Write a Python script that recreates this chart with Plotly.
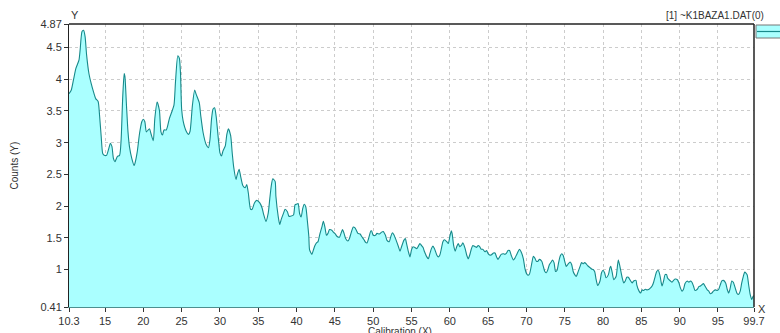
import plotly.graph_objects as go

# Spectrum: calibration (X) vs counts (Y)
x_cal = [
    10.3, 10.6, 10.9, 11.2, 11.6, 11.75, 12.0, 12.2, 12.4, 12.6, 12.9, 13.2, 13.5, 13.8,
    14.1, 14.3, 14.5, 14.7, 14.9, 15.2, 15.5, 15.7, 15.9, 16.1, 16.3, 16.6, 16.9, 17.1,
    17.3, 17.5, 17.6, 17.8, 18.0, 18.2, 18.5, 18.8, 18.9, 19.2, 19.5, 19.8, 20.0, 20.2,
    20.4, 20.8, 21.0, 21.3, 21.5, 21.8, 22.1, 22.3, 22.5, 22.7, 23.0, 23.4, 23.7, 24.0,
    24.2, 24.5, 24.7, 24.85, 25.0, 25.2, 25.6, 25.9, 26.1, 26.4, 26.7, 26.9, 27.3, 27.5,
    27.8, 28.2, 28.5, 28.7, 28.9, 29.1, 29.3, 29.5, 29.8, 30.0, 30.2, 30.4, 30.7, 30.9,
    31.1, 31.4, 31.6, 31.8, 32.1, 32.2, 32.5, 32.7, 33.0, 33.3, 33.5, 33.7, 34.0, 34.2,
    34.5, 34.8, 35.2, 35.5, 35.7, 36.0, 36.3, 36.5, 36.7, 36.9, 37.2, 37.3, 37.6, 37.8,
    38.0, 38.3, 38.5, 38.8, 39.0, 39.2, 39.6, 39.8, 40.0, 40.2, 40.4, 40.6, 40.8, 41.0,
    41.2, 41.4, 41.6, 41.7, 42.0, 42.2, 42.4, 42.6, 42.8, 43.0, 43.3, 43.5, 43.7, 43.9,
    44.1, 44.3, 44.6, 44.8, 45.0, 45.3, 45.6, 45.8, 46.0, 46.2, 46.4, 46.7, 46.9, 47.1,
    47.4, 47.6, 47.8, 48.0, 48.3, 48.5, 48.8, 49.0, 49.2, 49.4, 49.7, 49.8, 50.0, 50.3,
    50.5, 50.8, 51.1, 51.3, 51.6, 51.8, 52.1, 52.3, 52.5, 52.7, 53.0, 53.3, 53.5, 53.7,
    54.0, 54.2, 54.3, 54.6, 54.8, 55.0, 55.2, 55.4, 55.7, 55.9, 56.1, 56.3, 56.5, 56.7,
    57.0, 57.2, 57.4, 57.6, 57.8, 58.0, 58.3, 58.5, 58.7, 58.9, 59.1, 59.3, 59.6, 59.8,
    60.0, 60.2, 60.3, 60.5, 60.7, 60.9, 61.1, 61.3, 61.5, 61.7, 62.0, 62.2, 62.4, 62.6,
    62.8, 63.0, 63.3, 63.5, 63.7, 63.9, 64.1, 64.3, 64.6, 64.8, 65.0, 65.2, 65.4, 65.7,
    65.9, 66.1, 66.3, 66.5, 66.7, 67.0, 67.2, 67.4, 67.6, 67.8, 68.0, 68.3, 68.5, 68.7,
    68.9, 69.1, 69.3, 69.6, 69.8, 70.0, 70.2, 70.4, 70.7, 70.9, 71.1, 71.3, 71.5, 71.7,
    72.0, 72.2, 72.4, 72.6, 72.8, 73.0, 73.3, 73.4, 73.6, 73.8, 74.0, 74.2, 74.4, 74.6,
    74.8, 75.0, 75.2, 75.4, 75.7, 75.9, 76.1, 76.3, 76.5, 76.7, 77.0, 77.2, 77.4, 77.6,
    77.8, 78.0, 78.3, 78.5, 78.7, 78.9, 79.1, 79.3, 79.6, 79.8, 80.0, 80.2, 80.4, 80.7,
    80.9, 81.0, 81.2, 81.4, 81.7, 81.9, 82.0, 82.2, 82.5, 82.7, 82.9, 83.1, 83.3, 83.6,
    83.8, 84.0, 84.3, 84.4, 84.7, 84.9, 85.1, 85.3, 85.5, 85.7, 86.0, 86.2, 86.4, 86.6,
    86.8, 87.0, 87.2, 87.4, 87.6, 87.7, 87.9, 88.1, 88.3, 88.4, 88.6, 88.8, 89.0, 89.2,
    89.4, 89.7, 89.9, 90.1, 90.3, 90.5, 90.7, 91.0, 91.2, 91.4, 91.6, 91.8, 92.0, 92.3,
    92.5, 92.7, 92.9, 93.1, 93.3, 93.6, 93.8, 94.0, 94.2, 94.4, 94.7, 94.9, 95.1, 95.3,
    95.5, 95.7, 96.0, 96.2, 96.4, 96.6, 96.8, 97.0, 97.3, 97.5, 97.7, 97.9, 98.1, 98.3,
    98.5, 98.8, 99.0, 99.2, 99.4, 99.6, 99.7,
]
counts = [
    3.77, 3.83, 4.0, 4.17, 4.3, 4.46, 4.75, 4.77, 4.67, 4.38, 4.09, 3.93, 3.8, 3.69,
    3.65, 3.41, 3.1, 2.83, 2.8, 2.8, 2.91, 2.99, 2.94, 2.75, 2.7, 2.78, 2.8, 3.04,
    3.69, 4.09, 4.04, 3.59, 3.17, 2.93, 2.75, 2.64, 2.67, 2.85, 3.14, 3.33, 3.37, 3.33,
    3.17, 3.22, 3.14, 3.03, 3.38, 3.64, 3.51, 3.17, 3.12, 3.2, 3.2, 3.38, 3.48, 3.59,
    3.96, 4.37, 4.33, 4.1, 3.53, 3.34, 3.18, 3.13, 3.18, 3.58, 3.83, 3.76, 3.63, 3.42,
    3.16, 2.97, 2.92, 3.05, 3.37, 3.53, 3.55, 3.42, 3.05, 2.84, 2.79, 2.87, 2.95, 3.13,
    3.22, 3.11, 2.84, 2.61, 2.42, 2.47, 2.58, 2.47, 2.32, 2.29, 2.34, 2.21, 1.95, 1.95,
    2.05, 2.09, 2.05, 1.97, 1.87, 1.76, 1.89, 2.11, 2.32, 2.43, 2.39, 2.16, 1.84, 1.71,
    1.79, 1.89, 1.95, 1.91, 1.84, 1.84, 1.86, 2.02, 2.03, 2.04, 1.88, 1.83, 1.96, 2.03,
    1.99, 1.78, 1.52, 1.31, 1.24, 1.31, 1.38, 1.42, 1.44, 1.54, 1.67, 1.76, 1.67, 1.54,
    1.57, 1.63, 1.62, 1.59, 1.57, 1.52, 1.51, 1.57, 1.63, 1.57, 1.49, 1.45, 1.49, 1.57,
    1.67, 1.66, 1.62, 1.57, 1.56, 1.52, 1.47, 1.43, 1.42, 1.49, 1.61, 1.61, 1.54, 1.54,
    1.57, 1.56, 1.59, 1.6, 1.54, 1.46, 1.44, 1.52, 1.58, 1.55, 1.46, 1.36, 1.29, 1.36,
    1.46, 1.49, 1.44, 1.28, 1.2, 1.31, 1.36, 1.35, 1.33, 1.37, 1.41, 1.38, 1.35, 1.28,
    1.2, 1.17, 1.25, 1.33, 1.37, 1.33, 1.23, 1.2, 1.23, 1.33, 1.44, 1.47, 1.44, 1.41,
    1.52, 1.61, 1.57, 1.38, 1.29, 1.36, 1.41, 1.36, 1.38, 1.42, 1.33, 1.23, 1.17, 1.23,
    1.32, 1.38, 1.36, 1.35, 1.38, 1.36, 1.32, 1.32, 1.28, 1.3, 1.25, 1.23, 1.23, 1.26,
    1.26, 1.2, 1.16, 1.2, 1.24, 1.25, 1.24, 1.26, 1.3, 1.3, 1.23, 1.15, 1.18, 1.23,
    1.28, 1.32, 1.28, 1.17, 1.02, 0.94, 0.91, 0.93, 1.1, 1.21, 1.18, 1.13, 1.13, 1.16,
    1.13, 1.05, 0.97, 0.95, 1.0, 1.08, 1.13, 1.15, 1.11, 0.97, 0.99, 1.11, 1.21, 1.25,
    1.22, 1.13, 1.05, 1.08, 1.12, 1.08, 0.97, 0.92, 0.89, 0.95, 1.05, 1.11, 1.09, 1.11,
    1.09, 1.06, 1.03, 1.01, 1.0, 0.97, 0.84, 0.75, 0.82, 0.95, 0.99, 0.95, 0.87, 0.92,
    1.03, 1.05, 0.95, 0.84, 0.89, 1.08, 1.15, 1.05, 0.87, 0.79, 0.82, 0.88, 0.88, 0.82,
    0.79, 0.82, 0.83, 0.76, 0.66, 0.63, 0.68, 0.67, 0.69, 0.68, 0.69, 0.71, 0.74, 0.8,
    0.89, 0.97, 0.99, 0.92, 0.79, 0.74, 0.82, 0.92, 0.92, 0.87, 0.84, 0.82, 0.8, 0.83,
    0.85, 0.84, 0.79, 0.71, 0.66, 0.69, 0.78, 0.82, 0.8, 0.82, 0.8, 0.74, 0.67, 0.69,
    0.73, 0.74, 0.76, 0.78, 0.74, 0.68, 0.66, 0.62, 0.63, 0.66, 0.68, 0.67, 0.69, 0.76,
    0.82, 0.83, 0.79, 0.69, 0.63, 0.71, 0.82, 0.8, 0.69, 0.62, 0.61, 0.66, 0.79, 0.89,
    0.96, 0.92, 0.76, 0.61, 0.53, 0.58, 0.59,
]

x_min, x_max = 10.3, 99.7
y_min, y_max = 0.41, 4.87
x_ticks = [10.3, 15, 20, 25, 30, 35, 40, 45, 50, 55, 60, 65, 70, 75, 80, 85, 90, 95, 99.7]
y_ticks = [0.41, 1, 1.5, 2, 2.5, 3, 3.5, 4, 4.5, 4.87]

FILL = "#aaffff"
LINE = "#17898a"
FONT = "Liberation Sans"
TXT = "#333333"

fig = go.Figure()
fig.add_trace(go.Scatter(
    x=x_cal, y=counts, mode="lines",
    line=dict(color=LINE, width=1.1, shape="spline", smoothing=0.6),
    fill="tozeroy", fillcolor=FILL,
    showlegend=False, hoverinfo="skip",
))

W, H = 780, 333
L, R, T, B = 69, 26, 24, 26
PW, PH = W - L - R, H - T - B


def px(x):
    return (x - L) / PW


def py(y):
    return (H - B - y) / PH


fig.update_layout(
    width=W, height=H,
    margin=dict(l=L, r=R, t=T, b=B, autoexpand=False),
    paper_bgcolor="white", plot_bgcolor="white",
    showlegend=False,
    font=dict(family=FONT, size=11, color=TXT),
    xaxis=dict(
        range=[x_min, x_max], tickvals=x_ticks, ticktext=[str(v) for v in x_ticks],
        showgrid=True, gridcolor="#cccccc", griddash="3px,3px", gridwidth=1,
        showline=True, linecolor="#4d8f8f", linewidth=1,
        ticks="outside", ticklen=4, tickcolor=TXT,
        zeroline=False, fixedrange=True, automargin=False,
    ),
    yaxis=dict(
        range=[y_min, y_max], tickvals=y_ticks, ticktext=[str(v) for v in y_ticks],
        showgrid=True, gridcolor="#cccccc", griddash="3px,3px", gridwidth=1,
        showline=True, linecolor="#222222", linewidth=1,
        ticks="outside", ticklen=4, tickcolor=TXT,
        zeroline=False, fixedrange=True, automargin=False,
    ),
    shapes=[
        # top and right frame
        dict(type="line", xref="paper", yref="paper", x0=0, x1=1, y0=1, y1=1,
             line=dict(color="#222222", width=1.5)),
        dict(type="line", xref="paper", yref="paper", x0=1, x1=1, y0=0, y1=1,
             line=dict(color="#222222", width=1.5)),
        # legend swatch
        dict(type="rect", xref="paper", yref="paper",
             x0=px(756), x1=px(782), y0=py(38), y1=py(25),
             fillcolor=FILL, line=dict(color="#777777", width=1)),
        dict(type="line", xref="paper", yref="paper",
             x0=px(757), x1=px(782), y0=py(31.5), y1=py(31.5),
             line=dict(color=LINE, width=1.2)),
    ],
    annotations=[
        dict(text="Y", xref="paper", yref="paper", x=0.0, y=1.0,
             xanchor="left", yanchor="bottom", showarrow=False, yshift=1,
             font=dict(family=FONT, size=11, color=TXT)),
        dict(text="X", xref="paper", yref="paper", x=1.0, y=0.0,
             xanchor="left", yanchor="middle", showarrow=False, xshift=2, yshift=-2,
             font=dict(family=FONT, size=11, color=TXT)),
        dict(text="[1] ~K1BAZA1.DAT(0)", xref="paper", yref="paper", x=px(766),
             y=1.0, xanchor="right", yanchor="bottom", showarrow=False, yshift=1,
             font=dict(family=FONT, size=10, color=TXT)),
        dict(text="Counts (Y)", xref="paper", yref="paper", x=px(14), y=0.5,
             xanchor="center", yanchor="middle", textangle=-90, showarrow=False,
             font=dict(family=FONT, size=10, color=TXT)),
        dict(text="Calibration (X)", xref="paper", yref="paper", x=px(400),
             y=py(331), xanchor="center", yanchor="middle", showarrow=False,
             font=dict(family=FONT, size=10, color=TXT)),
    ],
)

fig.write_html("out.html")
